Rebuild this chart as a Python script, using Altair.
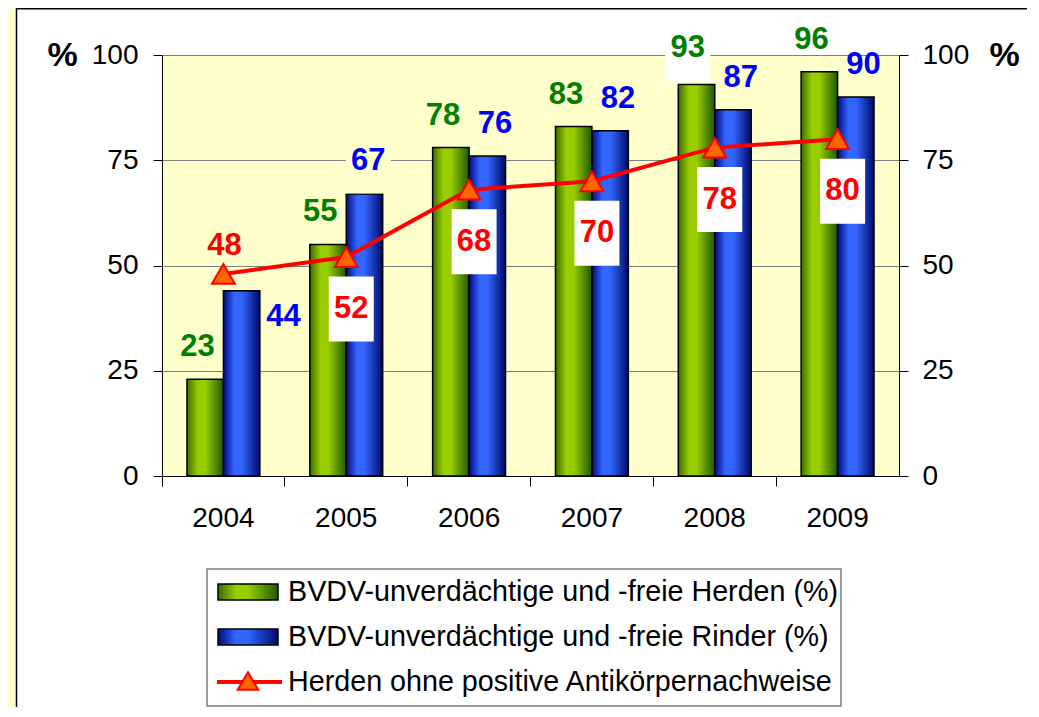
import altair as alt
import pandas as pd

# ---------------- data ----------------
years = ["2004", "2005", "2006", "2007", "2008", "2009"]
herden_frei = [23, 55, 78, 83, 93, 96]        # BVDV-unverdächtige und -freie Herden (%)
rinder_frei = [44, 67, 76, 82, 87, 90]        # BVDV-unverdächtige und -freie Rinder (%)
herden_ohne_ak = [48, 52, 68, 70, 78, 80]     # Herden ohne positive Antikörpernachweise
series_keys = ["Herden", "Rinder"]
legend_labels = [
    "BVDV-unverdächtige und -freie Herden (%)",
    "BVDV-unverdächtige und -freie Rinder (%)",
    "Herden ohne positive Antikörpernachweise",
]
y_ticks = [0, 25, 50, 75, 100]
axis_title = "%"

# ---------------- layout / style ----------------
W, H = 737, 421
PAD = {"left": 154, "top": 47, "right": 128, "bottom": 231}
FONT = "Liberation Sans"
PALE = "#FFFFCC"

bars_df = pd.DataFrame({
    "year": years * 2,
    "series": [series_keys[0]] * len(years) + [series_keys[1]] * len(years),
    "value": herden_frei + rinder_frei,
})
line_df = pd.DataFrame({"year": years, "value": herden_ohne_ak})
one = pd.DataFrame({"k": [0]})

x_scale = alt.Scale(domain=years, paddingInner=0, paddingOuter=0)
xo_scale = alt.Scale(domain=series_keys, paddingInner=0, paddingOuter=0.685)
y_scale = alt.Scale(domain=[0, 100], nice=False, zero=True)


def grad(c_edge_l, c_light, c_edge_r):
    return alt.Gradient(
        gradient="linear", x1=0, x2=1, y1=0, y2=0,
        stops=[
            alt.GradientStop(color=c_edge_l, offset=0),
            alt.GradientStop(color=c_light, offset=0.3),
            alt.GradientStop(color=c_light, offset=0.5),
            alt.GradientStop(color=c_edge_r, offset=1),
        ],
    )


GREEN_GRAD = grad("#3d6e00", "#9acd00", "#1e5a00")
BLUE_GRAD = grad("#000a80", "#3366ff", "#000a66")

x_axis = alt.Axis(
    title=None, bandPosition=0, tickExtra=True,
    tickSize=10, tickColor="black", tickWidth=1, domainColor="black", domainWidth=1,
    labelFont=FONT, labelFontSize=28, labelColor="black", labelPadding=18,
    grid=False, labelAngle=0,
)
common_y = dict(
    values=y_ticks, tickSize=9, tickColor="black", tickWidth=1,
    domainColor="black", domainWidth=1, labelFont=FONT, labelFontSize=28,
    labelColor="black", title=axis_title, titleAngle=0, titleFont=FONT,
    titleFontSize=34, titleFontWeight="bold", titleColor="black", titleY=0,
    titleAlign="center", titleBaseline="middle",
)
y_left = alt.Axis(orient="left", grid=True, gridColor="#7f7f7f", gridWidth=1,
                  labelPadding=15, titleX=-100, **common_y)
y_right = alt.Axis(orient="right", grid=False, labelPadding=14, titleX=105, **common_y)

X = alt.X("year:N", scale=x_scale, axis=x_axis, sort=years)
XO = alt.XOffset("series:N", scale=xo_scale)
Y_none = alt.Y("value:Q", scale=y_scale, axis=None)

# ---------------- frame decoration ----------------
strip = alt.Chart(one).mark_rect(fill=PALE).encode(
    x=alt.value(-PAD["left"]), x2=alt.value(-PAD["left"] + 8),
    y=alt.value(-PAD["top"]), y2=alt.value(H + PAD["bottom"]))
border_l = alt.Chart(one).mark_rule(color="black", strokeWidth=1.5).encode(
    x=alt.value(-PAD["left"] + 8.5), y=alt.value(-PAD["top"]), y2=alt.value(H + PAD["bottom"]))
border_t = alt.Chart(one).mark_rule(color="black", strokeWidth=1.5).encode(
    x=alt.value(-PAD["left"] + 8), x2=alt.value(W + PAD["right"]), y=alt.value(-PAD["top"] + 0.75))

# ---------------- bars ----------------
green = alt.Chart(bars_df).transform_filter(alt.datum.series == series_keys[0]).mark_bar(
    fill=GREEN_GRAD, stroke="black", strokeWidth=1.5).encode(
    x=X, xOffset=XO, y=alt.Y("value:Q", scale=y_scale, axis=y_left))
blue = alt.Chart(bars_df).transform_filter(alt.datum.series == series_keys[1]).mark_bar(
    fill=BLUE_GRAD, stroke="black", strokeWidth=1.5).encode(
    x=X, xOffset=XO, y=alt.Y("value:Q", scale=y_scale, axis=y_right))

# ---------------- line ----------------
line = alt.Chart(line_df).mark_line(color="#ff0000", strokeWidth=4).encode(x=X, y=Y_none)
tri = alt.Chart(line_df).mark_point(
    shape="triangle-up", size=520, filled=True, fill="#ff6600", stroke="#ff0000",
    strokeWidth=2, opacity=1).encode(x=X, y=Y_none)


# ---------------- value labels ----------------
def box_path(dx, dy, w=45, h=65):
    s = h / 2.0
    x0, x1 = (dx - w / 2) / s, (dx + w / 2) / s
    y0, y1 = (dy - h / 2) / s, (dy + h / 2) / s
    return f"M{x0:.3f},{y0:.3f}L{x1:.3f},{y0:.3f}L{x1:.3f},{y1:.3f}L{x0:.3f},{y1:.3f}Z"


def labels(df, yrs, color, dx, dy, box=None):
    base = alt.Chart(df).transform_filter(alt.FieldOneOfPredicate(field="year", oneOf=yrs))
    out = []
    if box:
        out.append(base.mark_point(shape=box_path(dx, dy), size=65 ** 2, filled=True,
                                   fill=box, strokeWidth=0, opacity=1).encode(x=X, y=Y_none))
    out.append(base.mark_text(font=FONT, fontSize=31, fontWeight="bold", color=color,
                              dx=dx, dy=dy, baseline="middle", align="center").encode(
        x=X, y=Y_none, text=alt.Text("value:Q")))
    return out


herden_df = pd.DataFrame({"year": years, "value": herden_frei})
rinder_df = pd.DataFrame({"year": years, "value": rinder_frei})

label_layers = []
label_layers += labels(herden_df, [y for y in years if y != "2008"], "#008000", -26, -32)
label_layers += labels(herden_df, ["2008"], "#008000", -27, -36, box="white")
label_layers += labels(rinder_df, ["2004"], "#0000ff", 60, 26)
label_layers += labels(rinder_df, ["2005"], "#0000ff", 22, -33, box=PALE)
label_layers += labels(rinder_df, ["2006", "2007", "2008", "2009"], "#0000ff", 26, -32)
label_layers += labels(line_df, ["2004"], "#ff0000", 1, -28)
label_layers += labels(line_df, years[1:], "#ff0000", 5, 52, box="white")

# ---------------- legend ----------------
LX0, LX1, LY0, LY1 = 45, 679, 514, 651
rows = [537, 582, 627]
legend = [alt.Chart(one).mark_rect(fill="white", stroke="#808080", strokeWidth=1.5).encode(
    x=alt.value(LX0), x2=alt.value(LX1), y=alt.value(LY0), y2=alt.value(LY1))]
for g, ry in zip([GREEN_GRAD, BLUE_GRAD], rows[:2]):
    legend.append(alt.Chart(one).mark_rect(fill=g, stroke="black", strokeWidth=1.5).encode(
        x=alt.value(56), x2=alt.value(116), y=alt.value(ry - 8), y2=alt.value(ry + 8)))
legend.append(alt.Chart(one).mark_rule(color="#ff0000", strokeWidth=4).encode(
    x=alt.value(55), x2=alt.value(120), y=alt.value(rows[2])))
legend.append(alt.Chart(one).mark_point(
    shape="triangle-up", size=420, filled=True, fill="#ff6600", stroke="#ff0000",
    strokeWidth=2, opacity=1).encode(x=alt.value(86), y=alt.value(rows[2] - 1)))
for lab, ry in zip(legend_labels, rows):
    legend.append(alt.Chart(one).mark_text(
        font=FONT, fontSize=28.7, color="black", align="left", baseline="middle").encode(
        x=alt.value(126), y=alt.value(ry), text=alt.value(lab)))

chart = alt.layer(
    strip, border_l, border_t, green, blue, line, tri, *label_layers, *legend
).resolve_scale(y="independent").properties(
    width=W, height=H, padding=PAD, autosize=alt.AutoSizeParams(type="none"),
    background="white",
).configure_view(fill=PALE, stroke=None)

chart.save("out.html", embed_options={"renderer": "svg", "actions": False})
